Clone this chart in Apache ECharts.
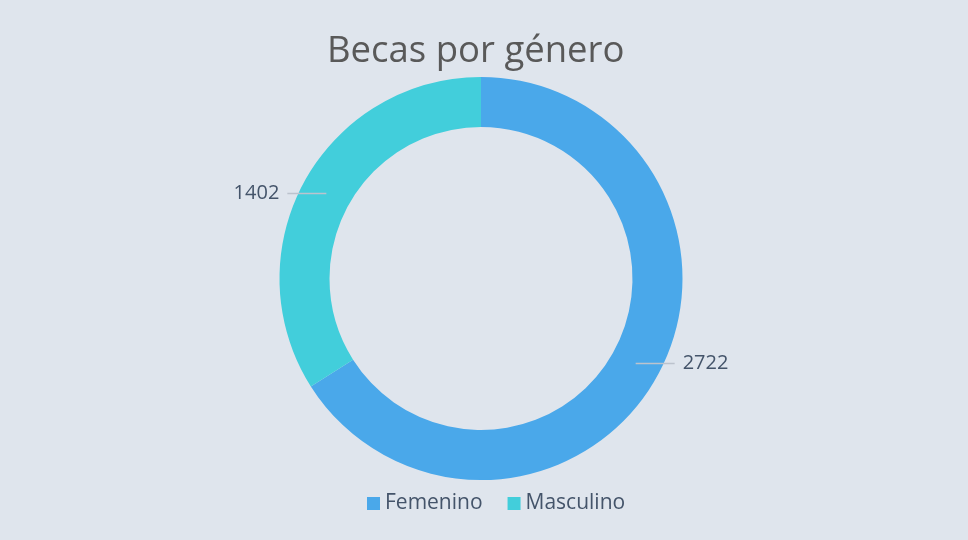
<!DOCTYPE html>
<html lang="es">
<head>
    <meta charset="UTF-8">
    <title>Becas por género</title>
    <script src="https://cdn.jsdelivr.net/npm/echarts@6/dist/echarts.min.js"></script>
    <style>
        html, body { margin: 0; padding: 0; background: #dfe5ed; }
        #chartmain { width: 968px; height: 540px; }
    </style>
</head>
<body>
<div id="chartmain"></div>
<script>
    // datos
    var generos = ['Femenino', 'Masculino'];
    var becas = [2722, 1402];
    var colores = ['#4aa8ea', '#42cedb'];

    var datos = [];
    var datosEtiquetas = [];
    for (var i = 0; i < generos.length; i++) {
        datos.push({ name: generos[i], value: becas[i], itemStyle: { color: colores[i] } });
        datosEtiquetas.push({ name: generos[i], value: becas[i] });
    }

    var centro = [481, 278.5];
    var myChart = echarts.init(document.getElementById('chartmain'));
    var option = {
        backgroundColor: '#dfe5ed',
        title: {
            text: 'Becas por género',
            left: 322,
            top: 28,
            textStyle: { fontFamily: 'Open Sans', fontSize: 36.5, fontWeight: 'normal', color: '#595959' }
        },
        legend: {
            bottom: 21,
            left: 362,
            itemWidth: 13,
            itemHeight: 13,
            itemGap: 25,
            icon: 'rect',
            textStyle: { fontFamily: 'Open Sans', fontSize: 21, color: '#44546a' },
            data: generos
        },
        series: [{
            // anillo
            type: 'pie',
            center: centro,
            radius: [151.5, 201.5],
            startAngle: 90,
            clockwise: true,
            silent: true,
            label: { show: false },
            labelLine: { show: false },
            data: datos,
            z: 2
        }, {
            // etiquetas: líneas desde la mitad del anillo
            type: 'pie',
            center: centro,
            radius: [0, 176.5],
            startAngle: 90,
            clockwise: true,
            silent: true,
            legendHoverLink: false,
            itemStyle: { color: 'rgba(0,0,0,0)' },
            label: {
                show: true,
                position: 'outside',
                formatter: '{c}',
                fontFamily: 'Open Sans',
                fontSize: 20,
                color: '#44546a',
                distanceToLabelLine: 8
            },
            labelLine: {
                show: true,
                length: 0,
                length2: 39,
                smooth: false,
                lineStyle: { color: '#bcc3cd', width: 1.5 }
            },
            data: datosEtiquetas,
            z: 3
        }]
    };
    myChart.setOption(option);
</script>
</body>
</html>
